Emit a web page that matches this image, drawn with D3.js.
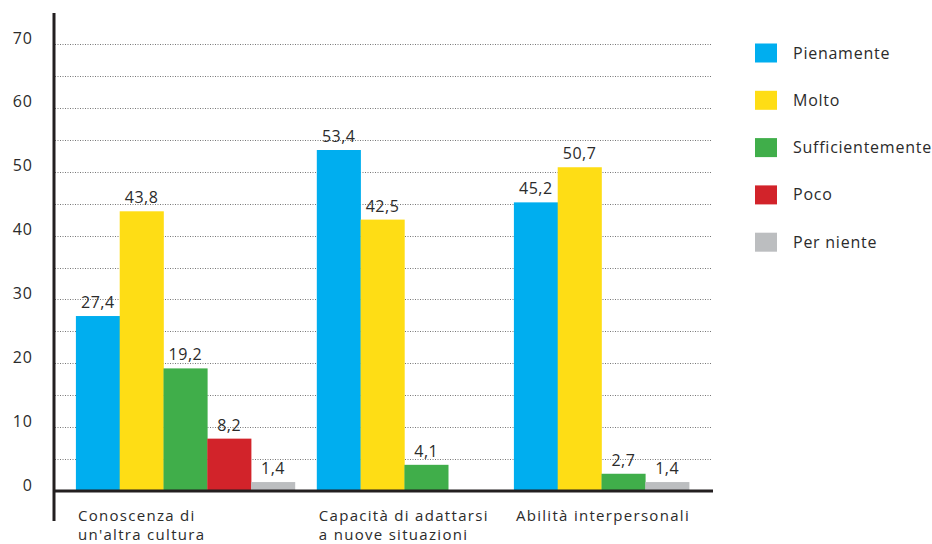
<!DOCTYPE html>
<html><head><meta charset="utf-8">
<script src="https://cdn.jsdelivr.net/npm/d3@7"></script>
<style>
body{margin:0;background:#fff;}
text{font-family:"Open Sans","Noto Sans",sans-serif;fill:#2b2b2b;}
</style></head>
<body><svg id="c" width="932" height="544"></svg>
<script>
const categories = [["Conoscenza di","un'altra cultura"],["Capacità di adattarsi","a nuove situazioni"],["Abilità interpersonali"]];
const seriesNames = ["Pienamente","Molto","Sufficientemente","Poco","Per niente"];
const seriesColors = ["#00AEEF","#FEDD15","#40AE4A","#D2232A","#BCBEC0"];
// values per category (null = not shown); 0 = empty slot
const pienamente = [27.4, 53.4, 45.2];
const molto = [43.8, 42.5, 50.7];
const sufficientemente = [19.2, 4.1, 2.7];
const poco = [8.2, null, null];
const perNiente = [1.4, 0, 1.4];
const yTicks = [0,10,20,30,40,50,60,70];
const gridTicks = [5,10,15,20,25,30,35,40,45,50,55,60,65,70];

const seriesVals = [pienamente, molto, sufficientemente, poco, perNiente];
const svg = d3.select("#c");
const y = d3.scaleLinear().domain([0,70]).range([491,44]);

// build slots
let slot = 0.5;
const bars = [];
const groupStart = [];
categories.forEach((c,ci)=>{
  groupStart.push(slot);
  seriesVals.forEach((arr,si)=>{
    const v = arr[ci];
    if (v === null) return;
    bars.push({ci, si, v, slot});
    slot += 1;
  });
  slot += 0.5;
});
const x = d3.scaleLinear().domain([0, slot]).range([54, 711]);
const sw = x(1)-x(0);

// gridlines
svg.append("g").selectAll("line").data(gridTicks).join("line")
  .attr("x1",55).attr("x2",712).attr("y1",d=>Math.round(y(d))+0.5).attr("y2",d=>Math.round(y(d))+0.5)
  .attr("stroke","#777").attr("stroke-width",1).attr("stroke-dasharray","1,1.5");

// y tick labels
svg.append("g").selectAll("text").data(yTicks).join("text")
  .attr("x",33).attr("y",d=>y(d)-0.5).attr("text-anchor","end")
  .style("font-size","16px").style("letter-spacing","1px").text(d=>d);

// bars
svg.append("g").selectAll("rect").data(bars).join("rect")
  .attr("x",d=>x(d.slot)).attr("width",sw+0.3)
  .attr("y",d=>y(d.v)).attr("height",d=>y(0)-y(d.v))
  .attr("fill",d=>seriesColors[d.si]);

// value labels
svg.append("g").selectAll("text").data(bars.filter(d=>d.v>0)).join("text")
  .attr("x",d=>x(d.slot)+sw/2).attr("y",d=>y(d.v)-8).attr("text-anchor","middle")
  .style("font-size","16px").style("letter-spacing","0.5px").text(d=>d3.format(".1f")(d.v).replace(".",","));

// baseline & axis
svg.append("line").attr("x1",53).attr("x2",713).attr("y1",y(0)).attr("y2",y(0))
  .attr("stroke","#231F20").attr("stroke-width",3);
svg.append("line").attr("x1",54).attr("x2",54).attr("y1",13).attr("y2",521)
  .attr("stroke","#231F20").attr("stroke-width",3);

// category labels
categories.forEach((lines,ci)=>{
  const t = svg.append("text").attr("x",x(groupStart[ci])+2).attr("y",521)
    .style("font-size","15px").style("letter-spacing","1.3px");
  lines.forEach((l,i)=>t.append("tspan").attr("x",x(groupStart[ci])+2).attr("dy",i?19:0).text(l));
});

// legend
const lg = svg.append("g").selectAll("g").data(seriesNames).join("g")
  .attr("transform",(d,i)=>`translate(755,${53+i*47.3})`);
lg.append("rect").attr("x",0).attr("y",-9.5).attr("width",22).attr("height",19)
  .attr("fill",(d,i)=>seriesColors[i]);
lg.append("text").attr("x",38).attr("y",5.5).style("font-size","16px").style("letter-spacing","0.75px").text(d=>d);
</script></body></html>
